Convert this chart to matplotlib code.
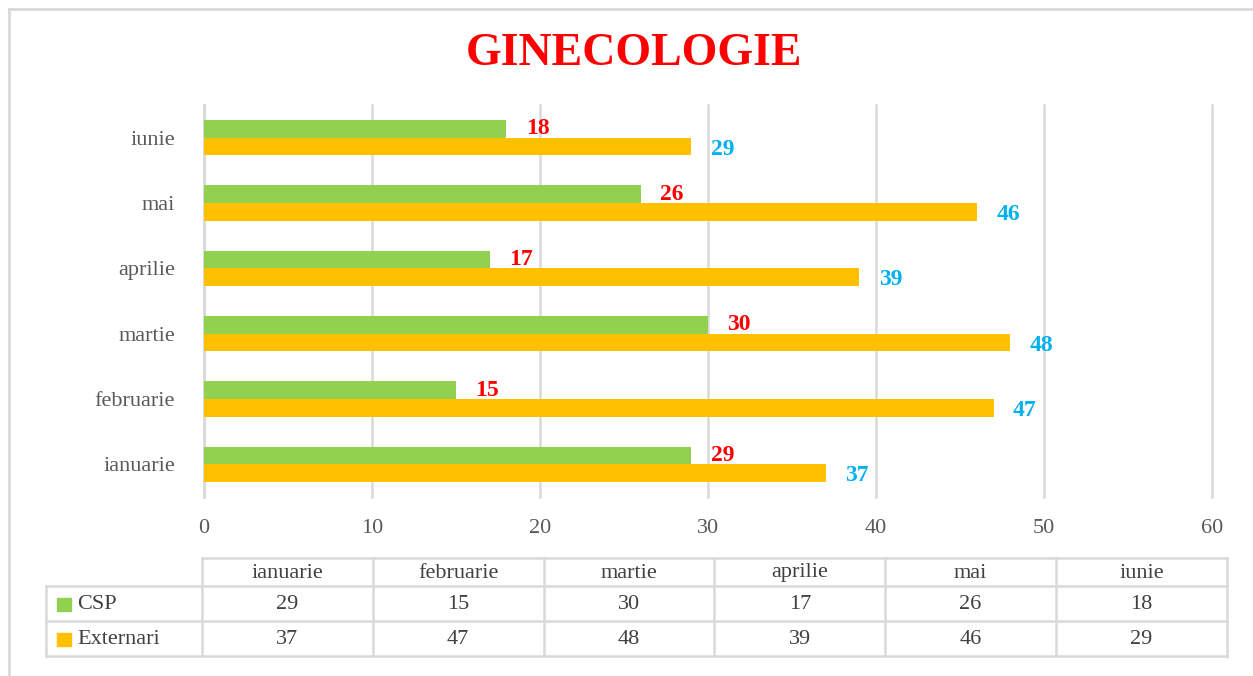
import numpy as np
import matplotlib
matplotlib.use("Agg")
import matplotlib.pyplot as plt
from matplotlib.patches import Rectangle

plt.rcParams['font.family'] = ['Liberation Serif', 'DejaVu Serif']

# data
luni = ['ianuarie', 'februarie', 'martie', 'aprilie', 'mai', 'iunie']
csp = [29, 15, 30, 17, 26, 18]
externari = [37, 47, 48, 39, 46, 29]
serii = ['CSP', 'Externari']
culori = ['#92D050', '#FFC000']
xticks = [0, 10, 20, 30, 40, 50, 60]

W, H = 1253, 676
fig = plt.figure(figsize=(W / 100, H / 100), dpi=100)

# background layer in pixel coords (frame + table)
bg = fig.add_axes([0, 0, 1, 1])
bg.set_xlim(0, W)
bg.set_ylim(H, 0)
bg.axis('off')
bg.plot([9, W], [9, 9], color='#D9D9D9', lw=2)
bg.plot([9, 9], [9, H], color='#D9D9D9', lw=2)

bg.text(634, 54, 'GINECOLOGIE', color='#FF0000', fontsize=33, fontweight='bold',
        ha='center', va='center')

# table below the chart
gc = '#D9D9D9'
tc = '#404040'
x0, cw = 202, 170.8
rows = [558, 586, 621, 656]
xl = 46
fs = 16
x_end = x0 + cw * len(luni)
bg.plot([x0, x_end], [rows[0], rows[0]], color=gc, lw=1.8)
for r in rows[1:]:
    bg.plot([xl, x_end], [r, r], color=gc, lw=1.8)
bg.plot([xl, xl], [rows[1], rows[3]], color=gc, lw=1.8)
for k in range(len(luni) + 1):
    bg.plot([x0 + cw * k, x0 + cw * k], [rows[0], rows[3]], color=gc, lw=1.8)
for k, luna in enumerate(luni):
    cx = x0 + cw * (k + 0.5)
    bg.text(cx, (rows[0] + rows[1]) / 2 + 1, luna, ha='center', va='center', fontsize=fs, color=tc)
    bg.text(cx, (rows[1] + rows[2]) / 2 + 1, str(csp[k]), ha='center', va='center', fontsize=fs, color=tc)
    bg.text(cx, (rows[2] + rows[3]) / 2 + 1, str(externari[k]), ha='center', va='center', fontsize=fs, color=tc)
for i, (nume, c) in enumerate(zip(serii, culori)):
    cy = (rows[i + 1] + rows[i + 2]) / 2
    bg.add_patch(Rectangle((57, cy - 6), 14, 13, color=c))
    bg.text(77, cy + 1, nume, ha='left', va='center', fontsize=fs, color=tc)

# main chart
ax = fig.add_axes([204 / W, 1 - 497 / H, 1008 / W, 392 / H])
ax.set_facecolor('none')
y = np.arange(len(luni))
h = 0.27
b1 = ax.barh(y + h / 2, csp, height=h, color=culori[0], zorder=3)
b2 = ax.barh(y - h / 2, externari, height=h, color=culori[1], zorder=3)

for rect, v in zip(b1, csp):
    ax.annotate(str(v), (v, rect.get_y() + rect.get_height() / 2), xytext=(14, 0),
                textcoords='offset points', ha='left', va='center', color='#FF0000',
                fontsize=17, fontweight='bold', zorder=4)
for rect, v in zip(b2, externari):
    ax.annotate(str(v), (v, rect.get_y() + rect.get_height() / 2), xytext=(14, -2),
                textcoords='offset points', ha='left', va='center', color='#00B0F0',
                fontsize=17, fontweight='bold', zorder=4)

ax.set_xlim(0, 60)
ax.set_ylim(-0.5, len(luni) - 0.5)
ax.set_xticks(xticks)
ax.set_yticks(y)
ax.set_yticklabels(luni)
ax.tick_params(axis='both', length=0, labelsize=16, colors='#595959')
ax.tick_params(axis='y', pad=21)
ax.tick_params(axis='x', pad=16)
ax.xaxis.grid(True, color=gc, lw=1.8, zorder=0)
for gl in ax.xaxis.get_gridlines():
    gl.set_clip_on(False)
for s in ['top', 'right', 'bottom']:
    ax.spines[s].set_visible(False)
ax.spines['left'].set_color(gc)
ax.spines['left'].set_linewidth(1.8)

fig.savefig('out.png', dpi=100)
